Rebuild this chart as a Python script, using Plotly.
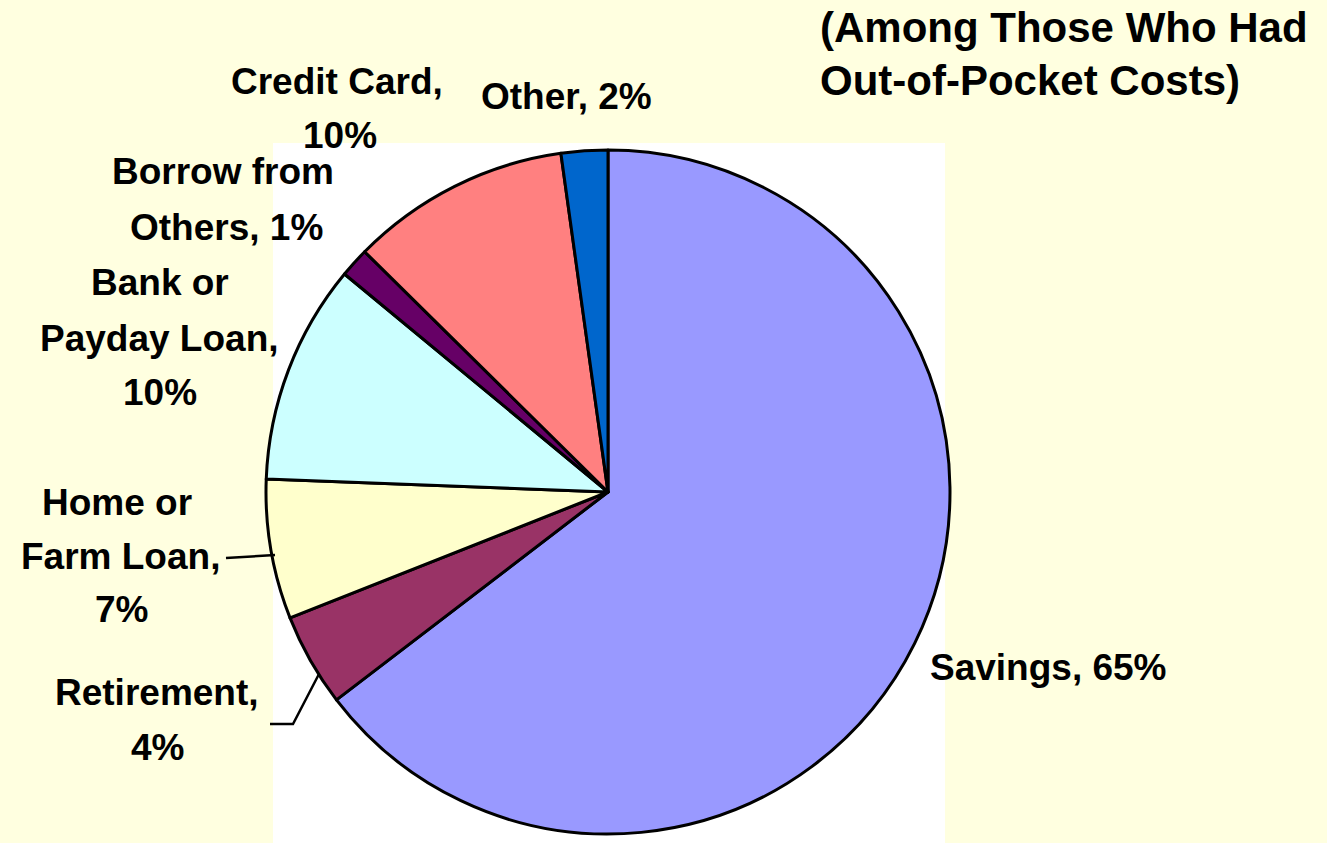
import plotly.graph_objects as go

# ---- data ----
categories = ["Savings", "Retirement", "Home or Farm Loan", "Bank or Payday Loan",
              "Borrow from Others", "Credit Card", "Other"]
values = [64.6, 4.4, 6.6, 10.4, 1.4, 10.4, 2.2]
shown_pct = [65, 4, 7, 10, 1, 10, 2]
colors = ["#9999FF", "#993366", "#FFFFCC", "#CCFFFF", "#660066", "#FF8080", "#0066CC"]
title_lines = ["(Among Those Who Had", "Out-of-Pocket Costs)"]

# ---- layout helpers ----
W, H = 1327, 843
BG = "#FFFFE0"
cx, cy, r = 608, 492, 342

# words per line for each label, and the centre (px) of each line
wrap = [[2], [1, 1], [2, 2, 1], [2, 2, 1], [2, 2], [2, 1], [2]]
line_pos = [
    [(1048, 667)],
    [(157, 692), (157, 747)],
    [(117, 502), (120, 556), (121, 609)],
    [(160, 283), (159, 339), (160, 392)],
    [(223, 171), (227, 227)],
    [(337, 81), (340, 135)],
    [(566, 97)],
]

def px(x):
    return x / W

def py(y):
    return 1 - y / H

fig = go.Figure()
fig.add_trace(go.Pie(
    labels=categories,
    values=values,
    marker=dict(colors=colors, line=dict(color="black", width=3)),
    sort=False,
    direction="clockwise",
    rotation=0,
    textinfo="none",
    hoverinfo="label+percent",
    showlegend=False,
    domain=dict(x=[px(cx - r), px(cx + r)], y=[py(cy + r), py(cy - r)]),
))

annotations = []
lab_font = dict(family="Liberation Sans, Arial, sans-serif", size=37, color="black")
for cat, pct, spec, poss in zip(categories, shown_pct, wrap, line_pos):
    words = f"{cat}, {pct}%".split(" ")
    i = 0
    for n, (x, y) in zip(spec, poss):
        line = " ".join(words[i:i + n])
        i += n
        annotations.append(dict(
            x=px(x), y=py(y), xref="paper", yref="paper", text=f"<b>{line}</b>",
            showarrow=False, xanchor="center", yanchor="middle", font=lab_font))

title_font = dict(family="Liberation Sans, Arial, sans-serif", size=42, color="black")
for line, y in zip(title_lines, [27, 80]):
    annotations.append(dict(
        x=px(818), y=py(y), xref="paper", yref="paper", text=f"<b>{line}</b>",
        showarrow=False, xanchor="left", yanchor="middle", font=title_font))

shapes = [
    dict(type="rect", xref="paper", yref="paper", x0=px(273), x1=px(945),
         y0=py(843), y1=py(143), fillcolor="white", line=dict(width=0), layer="below"),
    dict(type="path", xref="paper", yref="paper",
         path=f"M {px(226)},{py(558)} L {px(275)},{py(555)}",
         line=dict(color="black", width=2.5)),
    dict(type="path", xref="paper", yref="paper",
         path=f"M {px(270)},{py(724)} L {px(293)},{py(724)} L {px(319)},{py(674)}",
         line=dict(color="black", width=2.5)),
]

fig.update_layout(
    width=W, height=H,
    margin=dict(l=0, r=0, t=0, b=0),
    paper_bgcolor=BG, plot_bgcolor=BG,
    annotations=annotations, shapes=shapes,
)

fig.write_html("out.html")
